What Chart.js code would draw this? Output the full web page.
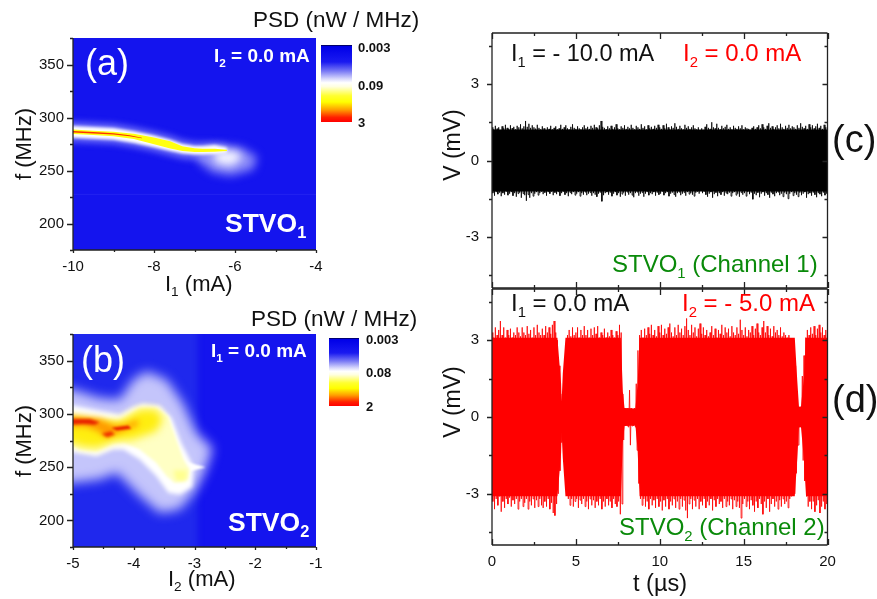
<!DOCTYPE html>
<html><head><meta charset="utf-8">
<style>html,body{margin:0;padding:0;background:#fff;width:877px;height:599px;overflow:hidden}canvas{position:absolute}</style>
<script src="https://cdn.jsdelivr.net/npm/chart.js@4/dist/chart.umd.js"></script>
</head><body>
<script>
// ---------- Tick values ----------
const aXTicks=[-10,-8,-6,-4], aXMinor=[-9,-7,-5];
const bXTicks=[-5,-4,-3,-2,-1], bXMinor=[-4.5,-3.5,-2.5,-1.5];
const fTicks=[200,250,300,350], fMinor=[175,225,275,325,375];
const tTicks=[0,5,10,15,20], tMinor=[2.5,7.5,12.5,17.5];
const vTicks=[-3,0,3], vMinor=[-4.5,-1.5,1.5,4.5];

// ---------- Panel (a): spectral map contours, I1 (mA), f (MHz) ----------
const aI=[-10.4,-10,-9.5,-9,-8.5,-8,-7.6,-7.3,-7,-6.8,-6.5,-6.2];
const aPaleHi=[296,296,295,294,291,287,283,279,277,277,277,274];
const aPaleLo=[277,277,276,275,272,268,264,261,260,259,260,264];
const aWhiteHi=[292,292,291,290,287,283,279,275,273,273,274,271.5];
const aWhiteLo=[281,281,280,279,276,272,268.5,266,265,265,265.5,267];
const aYellowHi=[288.6,288.6,287.6,286.6,284.6,281.2,277.6,272.8,271,270.6,270.6,269.6];
const aYellowLo=[284.4,284.4,283.4,282.4,279.8,274.8,270.8,268.4,267.4,267.4,267.6,268.4];
const aRedI=[-10.4,-10,-9.5,-9,-8.6,-8.3];
const aRedHi=[287.3,287.3,286.3,285.2,283.3,281.0];
const aRedLo=[285.8,285.8,284.9,283.9,282.3,280.4];
const aBlobOuterI=[-6.85,-6.35,-5.85,-5.45,-5.55,-6.1,-6.55,-6.9];
const aBlobOuterF=[269,274,272,263,251,245,248,258];
const aBlobInnerI=[-6.5,-6.0,-5.8,-6.1,-6.5];
const aBlobInnerF=[268,269,262,254,257];
const aStreakF=[227.5];

// ---------- Panel (b): spectral map contours, I2 (mA), f (MHz) ----------
const bLeftBgI=[-5.6,-2.95,-2.95,-5.6], bLeftBgF=[400,400,150,150];
const bHaloI=[-5.6,-5,-4.56,-4.23,-4.01,-3.79,-3.46,-3.19,-2.97,-2.7,-2.81,-2.97,-3.24,-3.57,-3.9,-4.28,-4.56,-5,-5.6];
const bHaloF=[325,322.8,315,313.4,332.2,340,332.2,310.3,282.2,268,248,229,210.3,207,222.8,244.7,238.4,235.3,235];
const bWhiteI=[-5.6,-5,-4.61,-4.23,-4.01,-3.85,-3.57,-3.38,-3.22,-3.05,-3.02,-3.04,-3.24,-3.43,-3.63,-3.9,-4.17,-4.34,-4.61,-4.89,-5,-5.6];
const bWhiteF=[309,307.8,303.4,299.4,306.6,309.7,307.8,296.3,272.8,254,246.3,231.6,224.4,226,241.6,257.2,266.6,266.6,260.3,262.8,264,264];
const bTailI=[-3.2,-2.82,-3.2], bTailF=[256,250,244];
const bPaleI=[-5.6,-5,-4.61,-4.23,-3.9,-3.63,-3.43,-3.3,-3.18,-3.08,-3.11,-3.33,-3.46,-3.63,-3.9,-4.17,-4.34,-4.61,-4.89,-5,-5.6];
const bPaleF=[299,298.4,295.3,294,305.6,305.6,297.8,276,257.2,247.8,238.4,235.3,241.6,254,266.6,273.4,272.2,265,266.6,270.3,271];
const bPatchI=[-3.35,-3.12,-3.14,-3.3], bPatchF=[247,247,237,237];
const bYellowI=[-5.6,-5,-4.61,-4.23,-3.9,-3.63,-3.52,-3.63,-4.01,-4.34,-4.61,-4.89,-5,-5.6];
const bYellowF=[298,297.8,294.7,293,304,304,294.7,283.8,276,274.4,268,269.7,272.8,273];
const bOrangeI=[-5.6,-5,-4.56,-4.31,-4.12,-3.93,-3.93,-4.28,-4.45,-4.58,-4.78,-5,-5.6];
const bOrangeF=[297.5,297.2,295.3,289,290,294.7,289,281.6,277.5,283.8,287.8,288.4,288.4];
const bRed1I=[-5.6,-5,-4.72,-4.56,-4.64,-4.83,-5,-5.6], bRed1F=[295.3,295.3,295.3,292.2,289.7,290.6,290,290];
const bRed2I=[-4.53,-4.37,-4.31,-4.44], bRed2F=[281.6,283.8,280.6,278.1];
const bRed3I=[-4.37,-4.09,-4.04,-4.28], bRed3F=[286.9,289,286,284.4];

// ---------- Panel (c): voltage trace envelope, every 0.1 us ----------
const cCoreT=[-0.5,20.5], cCoreHi=[1.22,1.22], cCoreLo=[-1.22,-1.22];
const cHi=[1.30,1.22,1.36,1.25,1.30,1.20,1.34,1.26,1.40,1.28,
1.24,1.38,1.27,1.32,1.22,1.36,1.30,1.42,1.26,1.34,
1.55,1.32,1.44,1.28,1.38,1.30,1.25,1.40,1.28,1.22,
1.34,1.26,1.20,1.30,1.24,1.36,1.22,1.28,1.34,1.22,
1.26,1.40,1.24,1.30,1.38,1.26,1.22,1.32,1.42,1.28,
1.24,1.34,1.26,1.22,1.30,1.38,1.26,1.32,1.24,1.36,
1.28,1.40,1.30,1.26,1.38,1.55,1.32,1.28,1.22,1.34,
1.26,1.36,1.24,1.30,1.42,1.26,1.22,1.34,1.28,1.38,
1.24,1.32,1.26,1.40,1.28,1.22,1.36,1.30,1.24,1.42,
1.28,1.34,1.22,1.38,1.26,1.32,1.24,1.36,1.28,1.40,
1.30,1.24,1.38,1.26,1.44,1.30,1.22,1.34,1.28,1.46,
1.32,1.24,1.36,1.26,1.22,1.40,1.28,1.34,1.24,1.30,
1.38,1.26,1.22,1.30,1.18,1.26,1.20,1.32,1.42,1.28,
1.24,1.50,1.30,1.26,1.44,1.28,1.22,1.36,1.26,1.32,
1.40,1.24,1.30,1.22,1.36,1.28,1.24,1.34,1.26,1.38,
1.22,1.30,1.26,1.24,1.20,1.28,1.34,1.24,1.30,1.38,
1.26,1.42,1.30,1.24,1.36,1.46,1.28,1.34,1.24,1.30,
1.38,1.26,1.44,1.30,1.24,1.36,1.28,1.40,1.26,1.34,
1.30,1.24,1.38,1.28,1.46,1.32,1.26,1.36,1.24,1.42,
1.30,1.38,1.26,1.34,1.44,1.28,1.36,1.24,1.40,1.30,1.28];
const cLo=[-1.28,-1.38,-1.24,-1.32,-1.26,-1.40,-1.28,-1.34,-1.22,-1.36,
-1.30,-1.24,-1.38,-1.28,-1.42,-1.30,-1.26,-1.46,-1.30,-1.36,
-1.58,-1.34,-1.46,-1.28,-1.40,-1.30,-1.24,-1.36,-1.28,-1.22,
-1.32,-1.26,-1.38,-1.24,-1.30,-1.22,-1.36,-1.26,-1.32,-1.24,
-1.38,-1.28,-1.22,-1.34,-1.28,-1.40,-1.26,-1.32,-1.24,-1.36,
-1.30,-1.24,-1.40,-1.28,-1.34,-1.24,-1.36,-1.30,-1.26,-1.38,
-1.28,-1.34,-1.42,-1.30,-1.26,-1.60,-1.36,-1.28,-1.24,-1.34,
-1.26,-1.40,-1.30,-1.24,-1.36,-1.28,-1.42,-1.32,-1.26,-1.38,
-1.24,-1.34,-1.28,-1.36,-1.44,-1.28,-1.24,-1.38,-1.30,-1.26,
-1.42,-1.30,-1.24,-1.36,-1.28,-1.32,-1.24,-1.38,-1.26,-1.34,
-1.30,-1.22,-1.36,-1.28,-1.24,-1.40,-1.30,-1.26,-1.34,-1.42,
-1.28,-1.24,-1.36,-1.30,-1.26,-1.38,-1.24,-1.32,-1.28,-1.34,
-1.40,-1.26,-1.22,-1.30,-1.18,-1.28,-1.22,-1.34,-1.42,-1.30,
-1.24,-1.46,-1.32,-1.26,-1.40,-1.28,-1.34,-1.24,-1.38,-1.28,
-1.32,-1.26,-1.40,-1.28,-1.24,-1.36,-1.30,-1.42,-1.26,-1.34,
-1.28,-1.40,-1.24,-1.32,-1.26,-1.52,-1.30,-1.36,-1.26,-1.44,
-1.30,-1.24,-1.38,-1.28,-1.34,-1.46,-1.26,-1.32,-1.40,-1.28,
-1.24,-1.36,-1.30,-1.42,-1.26,-1.32,-1.50,-1.30,-1.24,-1.38,
-1.28,-1.34,-1.42,-1.26,-1.36,-1.30,-1.24,-1.46,-1.32,-1.28,
-1.38,-1.26,-1.34,-1.44,-1.28,-1.32,-1.40,-1.26,-1.36,-1.30,-1.34];

// ---------- Panel (d): voltage trace envelope ----------
const dCoreT=[-0.5,3.9,4.02,4.12,4.15,4.22,4.38,7.68,7.8,7.9,8.55,8.68,8.8,18.05,18.2,18.3,18.42,18.6,18.72,20.5];
const dCoreHi=[3.1,3.1,2.1,1.3,0.6,1.7,3.1,3.1,1.0,0.35,0.33,1.3,3.1,3.1,1.4,0.4,0.4,1.6,3.1,3.1];
const dCoreLo=[-3.1,-3.1,-2.2,-1.4,-0.6,-1.6,-3.1,-3.1,-1.0,-0.35,-0.33,-1.3,-3.1,-3.1,-1.6,-0.4,-0.4,-1.7,-3.1,-3.1];
const dHi=[3.3,3.1,3.5,3.2,3.4,3.75,3.2,3.5,3.1,3.4,
3.2,3.45,3.1,3.3,3.2,3.5,3.3,3.15,3.5,3.3,
3.2,3.55,3.25,3.4,3.1,3.5,3.2,3.6,3.3,3.2,
3.45,3.2,3.55,3.3,3.5,3.25,3.6,3.75,3.3,3.0,
2.0,0.9,0.7,1.8,2.6,3.2,3.4,3.15,3.5,3.2,
3.3,3.5,3.1,3.4,3.2,3.55,3.2,3.4,3.1,3.45,
3.2,3.5,3.25,3.55,3.1,3.3,3.2,3.45,3.1,3.3,
3.15,3.4,3.2,3.1,3.35,3.2,3.6,3.3,0.9,0.35,
0.3,0.35,1.05,0.35,0.3,0.35,1.3,2.6,3.2,3.4,
3.1,3.45,3.2,3.5,3.25,3.6,3.2,3.4,3.15,3.55,
3.3,3.6,3.2,3.45,3.25,3.5,3.65,3.3,3.15,3.5,
3.2,3.6,3.3,3.45,3.2,3.55,3.85,3.4,3.2,3.6,
3.3,3.5,3.15,3.45,3.65,3.25,3.5,3.2,3.4,3.15,
3.3,3.55,3.2,3.45,3.1,3.4,3.25,3.6,3.2,3.5,
3.3,3.45,3.15,3.55,3.3,3.2,3.5,3.25,3.8,3.4,
3.2,3.5,3.15,3.4,3.3,3.55,3.2,3.45,3.65,3.3,
3.2,3.5,3.75,3.3,3.55,3.2,3.45,3.15,3.55,3.3,
3.4,3.2,3.5,3.15,3.3,3.2,3.1,3.2,2.9,3.0,
3.0,2.0,0.9,0.4,0.4,1.6,2.4,3.1,3.4,3.2,
3.5,3.25,3.55,3.2,3.45,3.6,3.3,3.5,3.2,3.4,3.2];
const dLo=[-3.3,-3.6,-3.2,-3.45,-3.1,-3.7,-3.3,-3.55,-3.2,-3.4,
-3.15,-3.5,-3.25,-3.4,-3.2,-3.6,-3.3,-3.2,-3.5,-3.35,
-3.2,-3.6,-3.3,-3.45,-3.2,-3.55,-3.25,-3.5,-3.2,-3.45,
-3.55,-3.3,-3.5,-3.2,-3.6,-3.35,-3.75,-3.85,-3.4,-3.0,
-2.1,-1.0,-0.7,-1.8,-2.6,-3.2,-3.45,-3.2,-3.5,-3.3,
-3.2,-3.55,-3.25,-3.4,-3.2,-3.5,-3.3,-3.6,-3.2,-3.45,
-3.25,-3.55,-3.3,-3.45,-3.2,-3.6,-3.3,-3.5,-3.2,-3.45,
-3.3,-3.55,-3.2,-3.4,-3.5,-3.3,-3.8,-3.4,-0.9,-0.35,
-0.35,-0.4,-1.1,-0.35,-0.35,-0.4,-1.3,-2.6,-3.2,-3.45,
-3.2,-3.5,-3.3,-3.6,-3.2,-3.45,-3.25,-3.55,-3.2,-3.5,
-3.3,-3.65,-3.25,-3.5,-3.2,-3.6,-3.3,-3.45,-3.2,-3.55,
-3.3,-3.6,-3.2,-3.5,-3.25,-3.65,-3.95,-3.4,-3.2,-3.6,
-3.25,-3.5,-3.2,-3.6,-3.3,-3.45,-3.2,-3.55,-3.3,-3.45,
-3.2,-3.65,-3.25,-3.5,-3.2,-3.4,-3.3,-3.55,-3.2,-3.5,
-3.3,-3.45,-3.2,-3.6,-3.25,-3.5,-3.3,-3.55,-3.95,-3.4,
-3.2,-3.5,-3.3,-3.6,-3.25,-3.45,-3.7,-3.3,-3.55,-3.2,
-3.4,-3.8,-3.3,-3.55,-3.2,-3.7,-3.4,-3.2,-3.5,-3.3,
-3.6,-3.25,-3.5,-3.2,-3.4,-3.3,-3.55,-3.2,-3.1,-3.0,
-3.0,-2.2,-1.1,-0.4,-0.4,-1.7,-2.5,-3.1,-3.5,-3.3,
-3.6,-3.3,-3.7,-3.45,-3.25,-3.75,-3.5,-3.3,-3.6,-3.4,-3.3];

// ---------- helpers ----------
const FONT='"Liberation Sans", Arial, sans-serif';
Chart.defaults.font.family=FONT;
const pts=(xs,ys)=>xs.map((x,i)=>({x,y:ys[i]}));
const ring=(xs,hi,lo)=>pts(xs,hi).concat(pts(xs,lo).reverse());
const band=(data,color,blur)=>({data,band:true,color,blur:blur||0,showLine:false,pointRadius:0});
const zigzag=(hi,lo,color,w)=>{
  const d=[];
  hi.forEach((v,i)=>{const t=i/10; d.push({x:t,y:v}); if(i<hi.length-1) d.push({x:t+0.05,y:lo[i]});});
  return {data:d,showLine:true,borderColor:color,borderWidth:w,pointRadius:0,tension:0,fill:false};
};
function rich(ctx,x,y,segs,size,color,weight){
  ctx.fillStyle=color; ctx.textAlign='left'; ctx.textBaseline='alphabetic';
  let cx=x;
  segs.forEach(s=>{
    const sub=s[0]==='_'; const txt=sub?s.slice(1):s; const fs=sub?size*0.62:size;
    ctx.font=(weight||'')+' '+fs+'px '+FONT;
    ctx.fillText(txt,cx,sub?y+size*0.24:y);
    cx+=ctx.measureText(txt).width;
  });
}
const mapPlugin={id:'mapLayers',
  beforeDatasetsDraw(chart,a,o){ if(o.bg){const c=chart.ctx,r=chart.chartArea;c.save();c.fillStyle=o.bg;c.fillRect(r.left,r.top,r.width,r.height);c.restore();} },
  beforeDatasetDraw(chart,args){
    const ds=chart.data.datasets[args.index]; if(!ds.band) return;
    const c=chart.ctx,r=chart.chartArea,sx=chart.scales.x,sy=chart.scales.y;
    c.save(); c.beginPath(); c.rect(r.left,r.top,r.width,r.height); c.clip();
    c.filter=ds.blur?`blur(${ds.blur}px)`:'none';
    c.fillStyle=ds.color; c.beginPath();
    ds.data.forEach((p,i)=>{const X=sx.getPixelForValue(p.x),Y=sy.getPixelForValue(p.y); i?c.lineTo(X,Y):c.moveTo(X,Y);});
    c.closePath(); c.fill(); c.restore();
    return false;
  }
};
const framePlugin={id:'frameTicks',
  afterDatasetsDraw(chart,a,o){
    const c=chart.ctx,r=chart.chartArea,sx=chart.scales.x,sy=chart.scales.y;
    c.save(); c.strokeStyle='#222'; c.lineWidth=1.3; c.beginPath();
    const line=(x0,y0,x1,y1)=>{c.moveTo(x0,y0);c.lineTo(x1,y1);};
    line(r.left,r.top,r.left,r.bottom); line(r.left,r.bottom,r.right,r.bottom);
    if(o.full){line(r.left,r.top,r.right,r.top); line(r.right,r.top,r.right,r.bottom);}
    const tickY=(list,len)=>list.forEach(v=>{const y=Math.round(sy.getPixelForValue(v))+.5; line(r.left,y,r.left-len,y); if(o.full) line(r.right,y,r.right-len,y);});
    const tickX=(list,len)=>list.forEach(v=>{const x=Math.round(sx.getPixelForValue(v))+.5;
      if(o.full){line(x,r.bottom,x,r.bottom-len); line(x,r.top,x,r.top+len);} else line(x,r.bottom,x,r.bottom+len);});
    tickY(o.yMajor,o.full?5:6); tickY(o.yMinor,3);
    tickX(o.xMajor,o.full?6:3); tickX(o.xMinor,o.full?3:2);
    c.stroke(); c.restore();
  }
};
const textPlugin={id:'panelText',
  afterDraw(chart,a,o){
    const c=chart.ctx; c.save(); c.translate(-o.box.l,-o.box.t);
    if(o.bar){const b=o.bar,g=c.createLinearGradient(0,b.y0,0,b.y1);
      [[0,'#000030'],[0.02,'#0000e8'],[0.22,'#1a1af0'],[0.34,'#7a7af5'],[0.44,'#d8d8fc'],[0.49,'#ffffff'],[0.54,'#ffffe0'],[0.66,'#ffff30'],[0.74,'#ffff00'],[0.84,'#ffa000'],[0.94,'#ff2000'],[1,'#ff0000']].forEach(s=>g.addColorStop(s[0],s[1]));
      c.fillStyle=g; c.fillRect(b.x0,b.y0,b.x1-b.x0,b.y1-b.y0);
    }
    (o.items||[]).forEach(t=>rich(c,t.x,t.y,t.s,t.size,t.color||'#111',t.w));
    (o.rot||[]).forEach(t=>{c.save();c.translate(t.x,t.y);c.rotate(-Math.PI/2);c.font=t.size+'px '+FONT;c.fillStyle='#111';c.textAlign='center';c.textBaseline='alphabetic';c.fillText(t.s,0,0);c.restore();});
    c.restore();
  }
};
function panel(box,plot,cfg){
  const cv=document.createElement('canvas');
  cv.width=box.w;cv.height=box.h;cv.style.left=box.l+'px';cv.style.top=box.t+'px';cv.style.width=box.w+'px';cv.style.height=box.h+'px';
  document.body.appendChild(cv);
  const yW=60,xH=32;
  const setTicks=list=>s=>{s.ticks=list.map(v=>({value:v}));};
  cfg.datasets.forEach((d,i)=>{d.order=-i;});
  new Chart(cv,{type:'scatter',data:{datasets:cfg.datasets},plugins:[mapPlugin,framePlugin,textPlugin],options:{
    responsive:false,animation:false,events:[],
    layout:{padding:{left:plot.x0-box.l-yW,right:box.l+box.w-plot.x1,top:plot.y0-box.t,bottom:box.t+box.h-plot.y1-xH}},
    scales:{
      x:{type:'linear',min:cfg.xr[0],max:cfg.xr[1],afterBuildTicks:setTicks(cfg.xT),afterFit:s=>{s.height=xH;s.paddingLeft=0;s.paddingRight=0;},
         grid:{display:false,drawTicks:false},border:{display:false},
         ticks:{display:cfg.xLabels!==false,autoSkip:false,maxRotation:0,font:{size:15},color:'#111',padding:cfg.xPad,callback:v=>String(v)}},
      y:{type:'linear',min:cfg.yr[0],max:cfg.yr[1],afterBuildTicks:setTicks(cfg.yT),afterFit:s=>{s.width=yW;s.paddingTop=0;s.paddingBottom=0;},
         grid:{display:false,drawTicks:false},border:{display:false},
         ticks:{autoSkip:false,font:{size:15},color:'#111',padding:cfg.yPad,callback:v=>String(v)}}
    },
    plugins:{legend:{display:false},tooltip:{enabled:false},
      mapLayers:{bg:cfg.bg},
      frameTicks:{full:cfg.full,xMajor:cfg.xT,xMinor:cfg.xM,yMajor:cfg.yT,yMinor:cfg.yM},
      panelText:{box,bar:cfg.bar,items:cfg.items,rot:cfg.rot}}
  }});
}

// ---------- (a) ----------
panel({l:0,t:0,w:430,h:300},{x0:73,x1:316,y0:38,y1:250},{
  xr:[-10,-4],yr:[175,375],xT:aXTicks,xM:aXMinor,yT:fTicks,yM:fMinor,xPad:8,yPad:9,bg:'#1414ee',
  datasets:[
    {data:pts([-10,-4],[aStreakF[0],aStreakF[0]]),showLine:true,borderColor:'rgba(120,120,255,.15)',borderWidth:1,pointRadius:0},
    band(ring(aI,aPaleHi,aPaleLo),'rgba(120,120,250,.85)',3),
    band(pts(aBlobOuterI,aBlobOuterF),'rgba(150,150,250,.9)',5),
    band(pts(aBlobInnerI,aBlobInnerF),'rgba(250,250,255,.95)',4),
    band(ring(aI,aWhiteHi,aWhiteLo),'#ffffff',1.6),
    band(ring(aI,aYellowHi,aYellowLo),'#ffff10',.7),
    band(ring(aRedI,aRedHi,aRedLo),'#ff3000',.5)
  ],
  bar:{x0:321,x1:352,y0:45,y1:122},
  items:[
    {x:253,y:27,s:['PSD (nW / MHz)'],size:22.5},
    {x:358,y:52,s:['0.003'],size:13,w:'bold'},{x:358,y:90,s:['0.09'],size:13,w:'bold'},{x:358,y:127,s:['3'],size:13,w:'bold'},
    {x:85,y:75,s:['(a)'],size:36,color:'#fff'},
    {x:214,y:62,s:['I','_2',' = 0.0 mA'],size:19,color:'#fff',w:'bold'},
    {x:225,y:232,s:['STVO','_1'],size:26.5,color:'#fff',w:'bold'},
    {x:165,y:291,s:['I','_1',' (mA)'],size:22}
  ],
  rot:[{x:31,y:144,s:'f (MHz)',size:22}]
});
// ---------- (b) ----------
panel({l:0,t:300,w:430,h:299},{x0:73,x1:316,y0:334,y1:547},{
  xr:[-5,-1],yr:[175,375],xT:bXTicks,xM:bXMinor,yT:fTicks,yM:fMinor,xPad:8,yPad:9,bg:'#1414ee',
  datasets:[
    band(pts(bLeftBgI,bLeftBgF),'rgba(60,90,235,.3)',3),
    band(pts(bHaloI,bHaloF),'rgba(205,205,252,.95)',6),
    band(pts(bWhiteI,bWhiteF),'#ffffff',2.2),
    band(pts(bTailI,bTailF),'#ffffff',1.2),
    band(pts(bPaleI,bPaleF),'#ffffc4',1.4),
    band(pts(bPatchI,bPatchF),'#ffff90',2),
    band(pts(bYellowI,bYellowF),'#ffee10',4),
    band(pts(bOrangeI,bOrangeF),'#ff9a00',3),
    band(pts(bRed1I,bRed1F),'#e82000',1.6),
    band(pts(bRed2I,bRed2F),'#f03000',1.5),
    band(pts(bRed3I,bRed3F),'#e82000',1.2)
  ],
  bar:{x0:329,x1:359,y0:338,y1:406},
  items:[
    {x:251,y:326,s:['PSD (nW / MHz)'],size:22.5},
    {x:366,y:344,s:['0.003'],size:13,w:'bold'},{x:366,y:377,s:['0.08'],size:13,w:'bold'},{x:366,y:411,s:['2'],size:13,w:'bold'},
    {x:81,y:372,s:['(b)'],size:36,color:'#fff'},
    {x:211,y:357,s:['I','_1',' = 0.0 mA'],size:19,color:'#fff',w:'bold'},
    {x:228,y:531,s:['STVO','_2'],size:26.5,color:'#fff',w:'bold'},
    {x:168,y:586,s:['I','_2',' (mA)'],size:22}
  ],
  rot:[{x:31,y:441,s:'f (MHz)',size:22}]
});
// ---------- (c) ----------
panel({l:430,t:0,w:447,h:340},{x0:492,x1:827.5,y0:33,y1:288},{
  xr:[0,20],yr:[-5,5],xT:tTicks,xM:tMinor,yT:vTicks,yM:vMinor,xPad:8,yPad:13,full:true,xLabels:false,
  datasets:[
    band(ring(cCoreT,cCoreHi,cCoreLo),'#000',0),
    zigzag(cHi,cLo,'#000',.8)
  ],
  items:[
    {x:511,y:61,s:['I','_1',' = - 10.0 mA'],size:23.5},
    {x:683,y:61,s:['I','_2',' = 0.0 mA'],size:24,color:'#ff0000'},
    {x:612,y:272,s:['STVO','_1',' (Channel 1)'],size:24,color:'#0a8a0a'},
    {x:832,y:152,s:['(c)'],size:38,color:'#111'}
  ],
  rot:[{x:460,y:145,s:'V (mV)',size:23}]
});
// ---------- (d) ----------
panel({l:430,t:250,w:447,h:349},{x0:492,x1:827.5,y0:289,y1:545},{
  xr:[0,20],yr:[-5,5],xT:tTicks,xM:tMinor,yT:vTicks,yM:vMinor,xPad:8,yPad:13,full:true,
  datasets:[
    band(ring(dCoreT,dCoreHi,dCoreLo),'#ff0000',0),
    zigzag(dHi,dLo,'#ff0000',.8)
  ],
  items:[
    {x:511,y:311,s:['I','_1',' = 0.0 mA'],size:24},
    {x:682,y:311,s:['I','_2',' = - 5.0 mA'],size:24,color:'#ff0000'},
    {x:619,y:535,s:['STVO','_2',' (Channel 2)'],size:24,color:'#0a8a0a'},
    {x:832,y:412,s:['(d)'],size:38,color:'#111'},
    {x:633,y:591,s:['t (µs)'],size:23.5}
  ],
  rot:[{x:460,y:402,s:'V (mV)',size:23}]
});
</script>
</body></html>
